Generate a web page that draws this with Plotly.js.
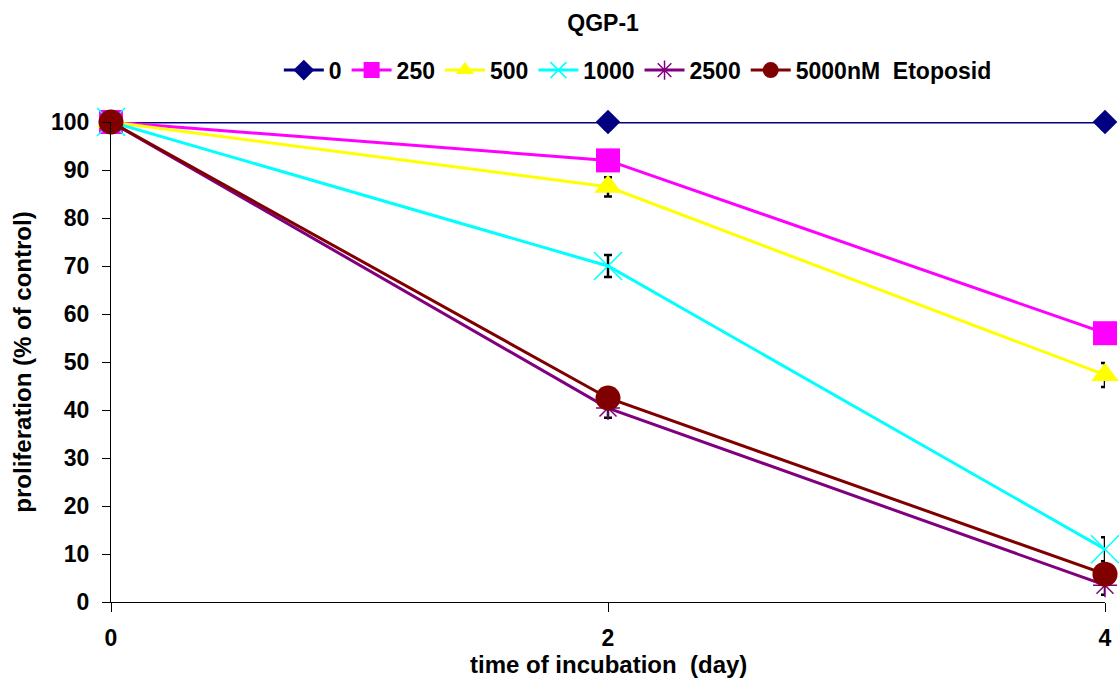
<!DOCTYPE html>
<html>
<head>
<meta charset="utf-8">
<script src="https://cdn.plot.ly/plotly-3.0.1.min.js"></script>
<style>html,body{margin:0;padding:0;background:#fff;}#chart{width:1119px;height:690px;}</style>
</head>
<body>
<div id="chart"></div>
<script>
const days = [0, 2, 4];
const seriesNames = ['0', '250', '500', '1000', '2500', '5000nM  Etoposid'];
const v0 = [100, 100, 100];
const v250 = [100, 92, 56];
const v500 = [100, 86.5, 47.3];
const v1000 = [100, 70, 11];
const v2500 = [100, 40.4, 3.5];
const v5000 = [100, 42.5, 5.8];
const e0 = [0, 1.5, 1.5];
const e250 = [0, 1.5, 0.5];
const e500 = [0, 2, 2.5];
const e1000 = [0, 2.3, 2.5];
const e2500 = [0, 2, 2];
const e5000 = [0, 1, 1];
const colors = ['#000080', '#FF00FF', '#FFFF00', '#00FFFF', '#800080', '#800000'];
const symbols = ['diamond', 'square', 'triangle-up', 'x-thin-open', 'asterisk-open', 'circle'];
const sizes = [19, 24, 24, 28, 20, 25];
const values = [v0, v250, v500, v1000, v2500, v5000];
const errs = [e0, e250, e500, e1000, e2500, e5000];

const traces = values.map((v, i) => ({
  x: days, y: v, name: seriesNames[i].replace(/  /g, '&nbsp;&nbsp;'), type: 'scatter', mode: 'lines+markers',
  line: {color: colors[i], width: 3},
  marker: {symbol: symbols[i], size: sizes[i], color: colors[i], line: {color: colors[i], width: (i===3||i===4)?1.5:0}},
  error_y: {type: 'data', array: errs[i], visible: true, color: '#000', thickness: 2.5, width: 4},
  cliponaxis: false
}));

const fam = 'Liberation Sans, Arial, sans-serif';
const layout = {
  width: 1119, height: 690,
  margin: {l: 111, r: 14, t: 122, b: 88},
  paper_bgcolor: '#fff', plot_bgcolor: '#fff',
  font: {family: fam, size: 22, color: '#000', weight: 'bold'},
  showlegend: true,
  title: {text: 'QGP-1', font: {family: fam, size: 23, color: '#000', weight: 'bold'}, x: 0.539, xanchor: 'center', y: 0.967, yanchor: 'middle'},
  legend: {orientation: 'h', x: 0.53, xanchor: 'center', y: 1.108, yanchor: 'middle', font: {family: fam, size: 23, color: '#000', weight: 'bold'}, itemwidth: 40, tracegroupgap: 0, bgcolor: 'rgba(0,0,0,0)'},
  annotations: [{
    text: 'time of incubation&nbsp;&nbsp;(day)', xref: 'paper', yref: 'paper', x: 0.5, y: -0.13,
    xanchor: 'center', yanchor: 'middle', showarrow: false,
    font: {family: fam, size: 24, color: '#000', weight: 'bold'}
  }],
  xaxis: {
    range: [0, 4], tickvals: [0, 2, 4], ticktext: ['0', '2', '4'],
    showgrid: false, zeroline: false, showline: true, linecolor: '#000', linewidth: 1,
    ticks: 'outside', ticklen: 9, tickcolor: '#000', tickwidth: 1,
    ticklabelstandoff: 6,
    tickfont: {family: fam, size: 23, color: '#000', weight: 'bold'}
  },
  yaxis: {
    range: [0, 100], tickvals: [0,10,20,30,40,50,60,70,80,90,100],
    showgrid: false, zeroline: false, showline: true, linecolor: '#000', linewidth: 1,
    ticks: 'outside', ticklen: 8, tickcolor: '#000', tickwidth: 1,
    ticklabelstandoff: 8,
    tickfont: {family: fam, size: 23, color: '#000', weight: 'bold'},
    title: {text: 'proliferation (% of control)', font: {family: fam, size: 24, color: '#000', weight: 'bold'}, standoff: 12}
  }
};
Plotly.newPlot('chart', traces, layout, {displayModeBar: false, staticPlot: true});
</script>
</body>
</html>
